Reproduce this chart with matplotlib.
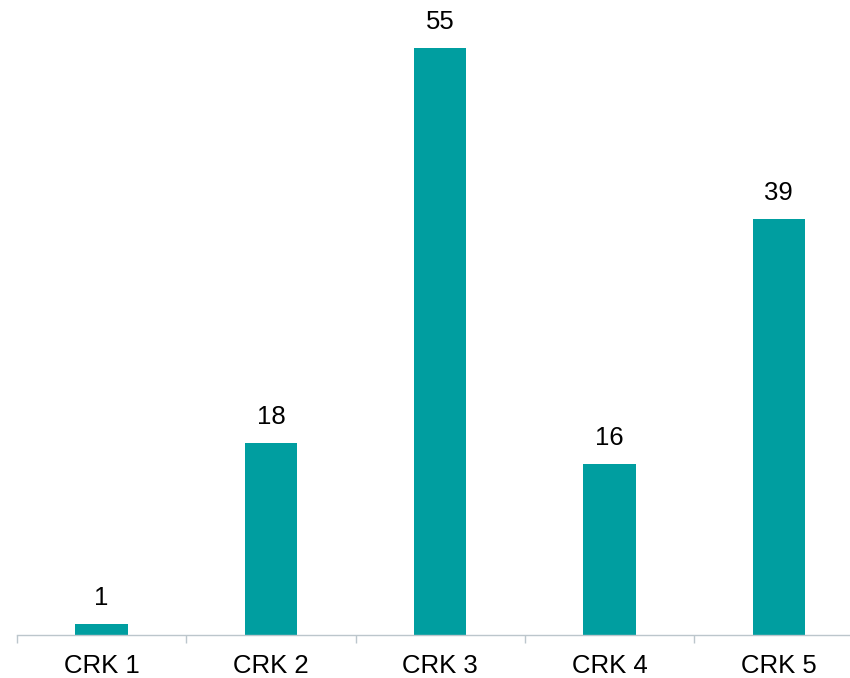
import numpy as np
import matplotlib.pyplot as plt

categories = ['CRK 1', 'CRK 2', 'CRK 3', 'CRK 4', 'CRK 5']
values = [1, 18, 55, 16, 39]

plt.rcParams['font.family'] = ['Liberation Sans', 'DejaVu Sans']

fig = plt.figure(figsize=(8.5, 6.78), dpi=100)
# axes run a little past the right edge, as in the reference
ax = fig.add_axes([17 / 850, 43 / 678, 846.5 / 850, 635 / 678])

x = np.arange(len(categories))
bars = ax.bar(x, values, width=0.31, color='#009EA0')

for xi, v in zip(x, values):
    ax.annotate(str(v), (xi, v), xytext=(0, 10), textcoords='offset points',
                ha='center', va='bottom', fontsize=18.5, color='black')

ax.set_xlim(-0.5, len(categories) - 0.5)
ax.set_ylim(0, 59.5)

ax.set_xticks(x)
ax.set_xticklabels(categories, fontsize=18.5)
ax.set_xticks(np.arange(len(categories) + 1) - 0.5, minor=True)
ax.tick_params(axis='x', which='major', length=0, pad=14)
ax.tick_params(axis='x', which='minor', length=6, width=1, color='#BCC6CC')
ax.set_yticks([])

for side in ['top', 'right', 'left']:
    ax.spines[side].set_visible(False)
ax.spines['bottom'].set_color('#BCC6CC')
ax.spines['bottom'].set_linewidth(1)

fig.savefig('out.png', dpi=100)
